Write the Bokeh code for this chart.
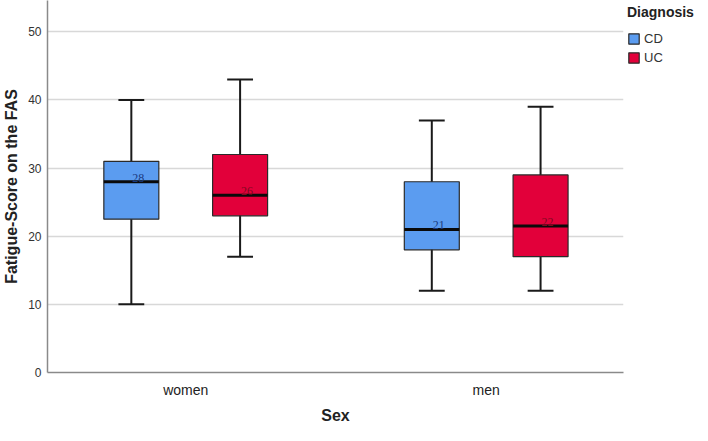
import numpy as np
from bokeh.plotting import figure
from bokeh.models import (ColumnDataSource, Range1d, FixedTicker, Legend, LegendItem)
from bokeh.embed import file_html
from bokeh.resources import INLINE

# ---- data ----
sexes = ["women", "men"]
diagnoses = ["CD", "UC"]
cd_lower = [10, 12]
cd_q1 = [22.5, 18]
cd_median = [28, 21]
cd_q3 = [31, 28]
cd_upper = [40, 37]
uc_lower = [17, 12]
uc_q1 = [23, 17]
uc_median = [26, 21.5]
uc_q3 = [32, 29]
uc_upper = [43, 39]
y_ticks = [0, 10, 20, 30, 40, 50]

stats = {
    "CD": dict(lower=cd_lower, q1=cd_q1, median=cd_median, q3=cd_q3, upper=cd_upper),
    "UC": dict(lower=uc_lower, q1=uc_q1, median=uc_median, q3=uc_q3, upper=uc_upper),
}
fill = {"CD": "#5b9cf0", "UC": "#e2003a"}
text_col = {"CD": "#1a3a80", "UC": "#80081f"}
offset = {"CD": -0.181, "UC": 0.181}
box_w = 0.183
cap_half = 0.043

FONT = "Liberation Sans"
FW, FH = 576, 372

p = figure(frame_width=FW, frame_height=FH, output_backend="svg", toolbar_location=None,
           x_range=Range1d(-0.46, 1.457), y_range=Range1d(0, 54.6),
           min_border_left=0, min_border_top=0, min_border_right=0, min_border_bottom=0)
p.outline_line_color = None
p.background_fill_color = "white"
p.border_fill_color = "white"

xs = np.arange(len(sexes))
items = []
for d in diagnoses:
    s = stats[d]
    x = xs + offset[d]
    src = ColumnDataSource(dict(
        x=x, xl=x - cap_half, xr=x + cap_half, bl=x - box_w / 2, br=x + box_w / 2,
        lower=s["lower"], q1=s["q1"], median=s["median"], q3=s["q3"], upper=s["upper"],
        label=[f"{m:.0f}" for m in s["median"]],
    ))
    p.segment(x0="x", y0="lower", x1="x", y1="upper", source=src,
              line_color="#1a1a1a", line_width=2)
    r = p.vbar(x="x", width=box_w, bottom="q1", top="q3", source=src,
               fill_color=fill[d], line_color="#2a2a2a", line_width=1.2)
    p.segment(x0="bl", y0="median", x1="br", y1="median", source=src,
              line_color="#0a0a0a", line_width=3)
    p.segment(x0="xl", y0="upper", x1="xr", y1="upper", source=src,
              line_color="#1a1a1a", line_width=2)
    p.segment(x0="xl", y0="lower", x1="xr", y1="lower", source=src,
              line_color="#1a1a1a", line_width=2)
    p.text(x="x", y="median", text="label", source=src, x_offset=7, y_offset=-4,
           text_align="center", text_baseline="alphabetic", text_font=FONT,
           text_font_size="12px", text_color=text_col[d])
    items.append(LegendItem(label=d, renderers=[r]))

legend = Legend(items=items, title="Diagnosis", location="top_left")
legend.title_text_font = FONT
legend.title_text_font_size = "14px"
legend.title_text_font_style = "bold"
legend.title_text_color = "#222222"
legend.title_standoff = 11
legend.label_text_font = FONT
legend.label_text_font_size = "13px"
legend.label_text_color = "#333333"
legend.glyph_width = 13
legend.glyph_height = 13
legend.label_standoff = 4
legend.label_height = 13
legend.spacing = 4
legend.padding = 5
legend.margin = 4
legend.border_line_color = None
legend.background_fill_alpha = 0
p.add_layout(legend, "right")

# axes
p.xaxis.ticker = FixedTicker(ticks=list(xs))
p.xaxis.major_label_overrides = {int(i): s for i, s in zip(xs, sexes)}
p.xaxis.axis_label = "Sex"
p.yaxis.axis_label = "Fatigue-Score on the FAS"
p.yaxis.ticker = FixedTicker(ticks=y_ticks)
for ax in (p.xaxis, p.yaxis):
    ax.axis_line_color = "#8a8a8a"
    ax.axis_line_width = 1.5
    ax.major_tick_line_color = None
    ax.minor_tick_line_color = None
    ax.major_tick_out = 0
    ax.major_tick_in = 0
    ax.axis_label_text_font = FONT
    ax.axis_label_text_font_style = "bold"
    ax.axis_label_text_font_size = "16px"
    ax.axis_label_text_color = "#222222"
    ax.major_label_text_font = FONT
p.xaxis.major_label_text_font_size = "14px"
p.xaxis.major_label_text_color = "#222222"
p.xaxis.major_label_standoff = 9
p.xaxis.axis_label_standoff = 6
p.yaxis.major_label_text_font_size = "12px"
p.yaxis.major_label_text_color = "#333333"
p.yaxis.major_label_standoff = 6
p.yaxis.axis_label_standoff = 5

p.xgrid.grid_line_color = None
p.ygrid.ticker = FixedTicker(ticks=y_ticks[1:])
p.ygrid.grid_line_color = "#d8d8d8"
p.ygrid.grid_line_width = 1.5

open("out.html", "w").write(file_html(p, INLINE))
